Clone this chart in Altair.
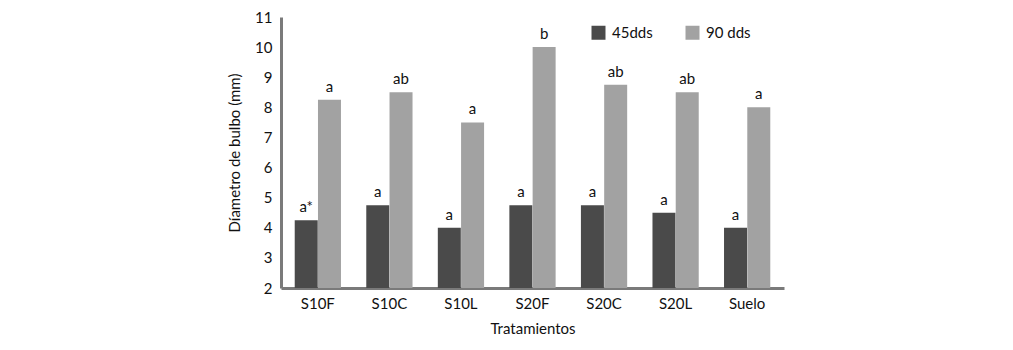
import altair as alt
import pandas as pd

tratamientos = ["S10F", "S10C", "S10L", "S20F", "S20C", "S20L", "Suelo"]
series = ["45dds", "90 dds"]
v45 = [4.25, 4.75, 4.0, 4.75, 4.75, 4.5, 4.0]
v90 = [8.25, 8.5, 7.5, 10.0, 8.75, 8.5, 8.0]
l45 = ["a*", "a", "a", "a", "a", "a", "a"]
l90 = ["a", "ab", "a", "b", "ab", "ab", "a"]

rows = []
for i, t in enumerate(tratamientos):
    rows.append({"trat": t, "serie": series[0], "valor": v45[i], "letra": l45[i], "base": 2})
    rows.append({"trat": t, "serie": series[1], "valor": v90[i], "letra": l90[i], "base": 2})
df = pd.DataFrame(rows)

FONT = "Lato"

x = alt.X("trat:N", sort=tratamientos, title="Tratamientos",
          scale=alt.Scale(paddingInner=0.35, paddingOuter=0.19),
          axis=alt.Axis(labelAngle=0, labelFontSize=15, labelPadding=8, ticks=False,
                        titleFontSize=15, titleFontWeight="normal", titlePadding=10,
                        domainColor="#7a7a7a", domainWidth=3, labelColor="#111",
                        titleColor="#111"))
xo = alt.XOffset("serie:N", sort=series, scale=alt.Scale(paddingInner=0, paddingOuter=0))
y = alt.Y("valor:Q", title="Díametro de bulbo (mm)",
          scale=alt.Scale(domain=[2, 11], nice=False, zero=False),
          axis=alt.Axis(values=list(range(2, 12)), labelFontSize=15, labelPadding=9,
                        ticks=False, grid=False, titleFontSize=15, titleFontWeight="normal",
                        titlePadding=12, domainColor="#7a7a7a", domainWidth=3,
                        labelColor="#111", titleColor="#111"))

color = alt.Color("serie:N", sort=series,
                  scale=alt.Scale(domain=series, range=["#4a4a4a", "#a2a2a2"]),
                  legend=alt.Legend(title=None, orient="none", legendX=310, legendY=8,
                                    direction="horizontal", symbolType="square",
                                    symbolSize=196, symbolStrokeWidth=0, labelFontSize=15,
                                    labelOffset=6, columnPadding=32, labelColor="#111"))

bars = alt.Chart(df).mark_bar(size=23).encode(x=x, xOffset=xo, y=y, y2="base:Q", color=color)
text = alt.Chart(df).mark_text(baseline="bottom", dy=-5, fontSize=15, font=FONT,
                               color="#111").encode(x=x, xOffset=xo, y=y, text="letra:N")

chart = (bars + text).properties(
    width=503, height=271,
    autosize=alt.AutoSizeParams(type="none"),
    padding={"left": 281, "top": 17, "right": 229, "bottom": 62},
).configure(font=FONT).configure_view(stroke=None)

chart.save("out.html", embed_options={"renderer": "svg", "actions": False})
